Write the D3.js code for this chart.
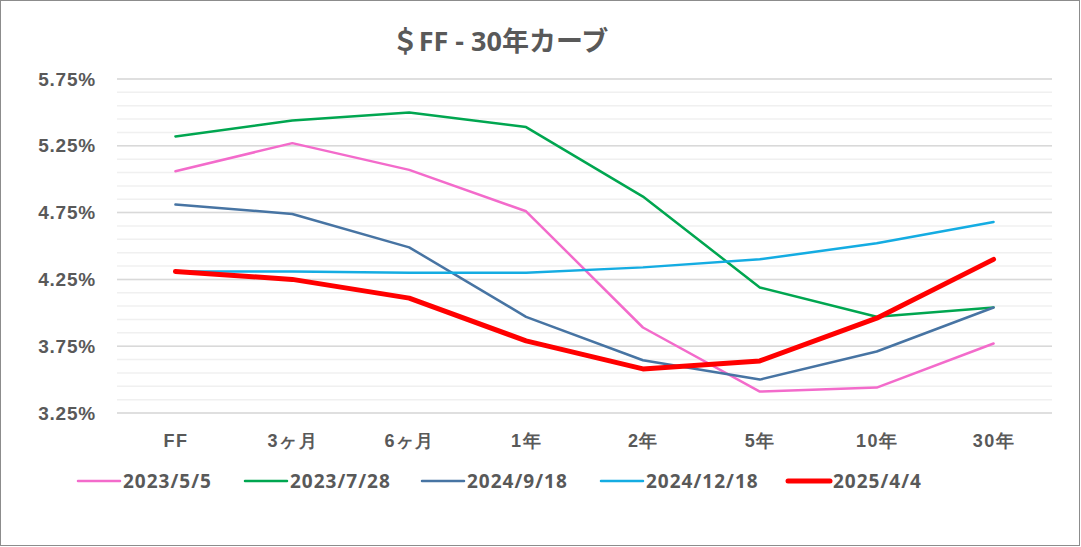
<!DOCTYPE html>
<html>
<head>
<meta charset="utf-8">
<script src="https://cdn.jsdelivr.net/npm/d3@7"></script>
<style>
  body { margin: 0; background: #fff; }
  svg { display: block; font-family: "Open Sans", "Noto Sans CJK JP", sans-serif; }
</style>
</head>
<body>
<div id="chart"></div>
<script>
const TENORS = ["FF", "3ヶ月", "6ヶ月", "1年", "2年", "5年", "10年", "30年"];
const Y_TICKS = [3.25, 3.75, 4.25, 4.75, 5.25, 5.75];

const rates_2023_05_05 = [5.06, 5.27, 5.07, 4.76, 3.89, 3.41, 3.44, 3.77];
const rates_2023_07_28 = [5.32, 5.44, 5.50, 5.39, 4.87, 4.19, 3.97, 4.04];
const rates_2024_09_18 = [4.81, 4.74, 4.49, 3.97, 3.645, 3.50, 3.71, 4.04];
const rates_2024_12_18 = [4.31, 4.31, 4.30, 4.30, 4.34, 4.40, 4.52, 4.68];
const rates_2025_04_04 = [4.31, 4.25, 4.11, 3.79, 3.58, 3.64, 3.96, 4.40];

const series = [
    { name: "2023/5/5", values: rates_2023_05_05, color: "#F36BCB", width: 2.5, legendX: 78 },
    { name: "2023/7/28", values: rates_2023_07_28, color: "#00A650", width: 2.5, legendX: 245 },
    { name: "2024/9/18", values: rates_2024_09_18, color: "#4774A3", width: 2.5, legendX: 422 },
    { name: "2024/12/18", values: rates_2024_12_18, color: "#14ACE2", width: 2.5, legendX: 601 },
    { name: "2025/4/4", values: rates_2025_04_04, color: "#FF0000", width: 5, legendX: 788 }
];

const W = 1081, H = 547;
const plot = { left: 117, right: 1052, top: 79, bottom: 413 };
const TEXT = "#595959";

const svg = d3.select("#chart").append("svg")
    .attr("width", W)
    .attr("height", H);

svg.append("rect")
    .attr("x", 0.5).attr("y", 0.5)
    .attr("width", W - 2).attr("height", H - 2)
    .attr("fill", "#fff")
    .attr("stroke", "#8c8c8c");

const x = d3.scalePoint()
    .domain(TENORS)
    .range([plot.left, plot.right])
    .padding(0.5);

const y = d3.scaleLinear()
    .domain([3.25, 5.75])
    .range([plot.bottom, plot.top]);

// minor gridlines every 0.1%
const minor = d3.range(0, 26).map(i => 3.25 + i * 0.1);
svg.append("g")
    .selectAll("line")
    .data(minor)
    .enter()
    .append("line")
    .attr("x1", plot.left).attr("x2", plot.right)
    .attr("y1", d => y(d)).attr("y2", d => y(d))
    .attr("stroke", "#f0f0f0")
    .attr("stroke-width", 1.5);

// major gridlines
svg.append("g")
    .selectAll("line")
    .data(Y_TICKS)
    .enter()
    .append("line")
    .attr("x1", plot.left).attr("x2", plot.right)
    .attr("y1", d => y(d)).attr("y2", d => y(d))
    .attr("stroke", "#d9d9d9")
    .attr("stroke-width", 1.5);

const yAxis = svg.append("g")
    .attr("transform", `translate(${plot.left - 21},0)`)
    .call(d3.axisLeft(y).tickValues(Y_TICKS).tickSize(0).tickFormat(d => d.toFixed(2) + "%"));
yAxis.select(".domain").remove();
yAxis.selectAll("text")
    .attr("x", 0)
    .attr("fill", TEXT)
    .attr("font-size", 19)
    .attr("font-weight", "bold")
    .attr("letter-spacing", 0.8);

const xAxis = svg.append("g")
    .attr("transform", `translate(0,${plot.bottom + 21})`)
    .call(d3.axisBottom(x).tickSize(0));
xAxis.select(".domain").remove();
xAxis.selectAll("text")
    .attr("y", 0)
    .attr("dy", "0.71em")
    .attr("fill", TEXT)
    .attr("font-size", 18)
    .attr("font-weight", "bold")
    .attr("letter-spacing", 1.5);

const line = d3.line()
    .x((d, i) => x(TENORS[i]))
    .y(d => y(d));

svg.append("g")
    .selectAll("path")
    .data(series)
    .enter()
    .append("path")
    .attr("fill", "none")
    .attr("stroke", d => d.color)
    .attr("stroke-width", d => d.width)
    .attr("stroke-linejoin", "round")
    .attr("stroke-linecap", "round")
    .attr("d", d => line(d.values));

// legend
const legend = svg.append("g")
    .selectAll("g")
    .data(series)
    .enter()
    .append("g")
    .attr("transform", d => `translate(${d.legendX},481)`);

legend.append("line")
    .attr("x1", 0).attr("x2", 42)
    .attr("stroke", d => d.color)
    .attr("stroke-width", d => d.width)
    .attr("stroke-linecap", "round");

legend.append("text")
    .attr("x", 45)
    .attr("dy", "0.36em")
    .attr("fill", TEXT)
    .attr("font-size", 19)
    .attr("font-weight", "bold")
    .attr("letter-spacing", 1)
    .text(d => d.name);

svg.append("text")
    .attr("x", 500)
    .attr("y", 51)
    .attr("text-anchor", "middle")
    .attr("fill", TEXT)
    .attr("font-size", 27)
    .attr("font-weight", "bold")
    .text("＄FF - 30年カーブ");
</script>
</body>
</html>
